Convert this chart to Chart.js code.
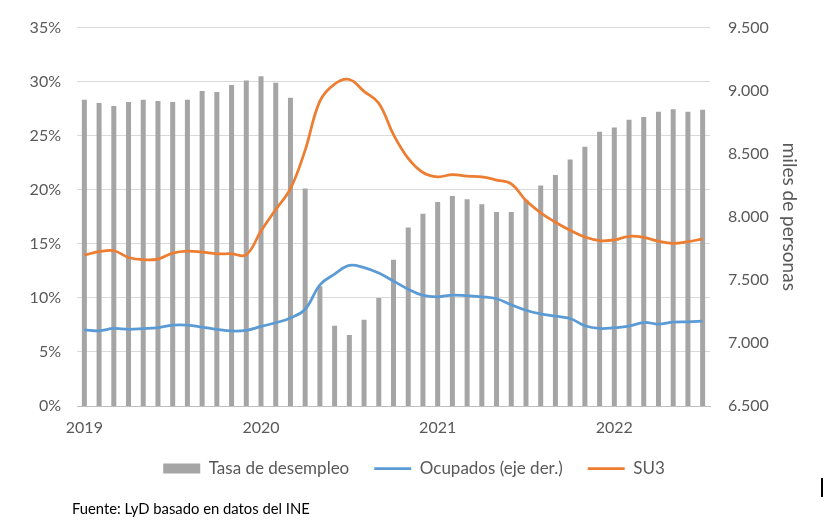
<!DOCTYPE html>
<html>
<head>
<meta charset="utf-8">
<script src="https://cdn.jsdelivr.net/npm/chart.js@4.4.1/dist/chart.umd.min.js"></script>
<style>
  html, body { margin: 0; padding: 0; background: #fff; }
  #wrap { position: relative; width: 828px; height: 531px; }
  #source {
    position: absolute; left: 72px; top: 499px;
    font-family: Lato, sans-serif; font-size: 14.8px; color: #000;
  }
  #mark { position: absolute; left: 821px; top: 478px; width: 2px; height: 19px; background: #000; }
</style>
</head>
<body>
<div id="wrap">
  <canvas id="chart" width="828" height="531"></canvas>
  <div id="source">Fuente: LyD basado en datos del INE</div>
  <div id="mark"></div>
</div>
<script>
(function () {
    'use strict';

    var MONTHS = [
        '2019-01', '2019-02', '2019-03', '2019-04', '2019-05', '2019-06',
        '2019-07', '2019-08', '2019-09', '2019-10', '2019-11', '2019-12',
        '2020-01', '2020-02', '2020-03', '2020-04', '2020-05', '2020-06',
        '2020-07', '2020-08', '2020-09', '2020-10', '2020-11', '2020-12',
        '2021-01', '2021-02', '2021-03', '2021-04', '2021-05', '2021-06',
        '2021-07', '2021-08', '2021-09', '2021-10', '2021-11', '2021-12',
        '2022-01', '2022-02', '2022-03', '2022-04', '2022-05', '2022-06',
        '2022-07'
    ];

    // Bars, read on the right axis (miles de personas).
    var BARS = [
        8927, 8903, 8879, 8911, 8927, 8919, 8911, 8927, 8997, 8990, 9045, 9081,
        9115, 9063, 8943, 8225, 7450, 7136, 7063, 7183, 7356, 7660, 7916, 8024,
        8118, 8165, 8139, 8100, 8039, 8039, 8135, 8249, 8332, 8455, 8555, 8675,
        8707, 8770, 8791, 8832, 8853, 8832, 8848
    ];

    // Blue line, left axis (%).
    var BLUE = [
        7.05, 6.96, 7.17, 7.09, 7.15, 7.24, 7.48, 7.48, 7.30, 7.09, 6.94, 7.00,
        7.36, 7.70, 8.15, 8.95, 11.2, 12.2, 13.0, 12.8, 12.3, 11.55, 10.8, 10.23,
        10.1, 10.26, 10.2, 10.1, 9.92, 9.37, 8.86, 8.52, 8.31, 8.09, 7.42, 7.17,
        7.24, 7.39, 7.72, 7.58, 7.76, 7.79, 7.85
    ];

    // Orange line (SU3), left axis (%).
    var SU3 = [
        13.96, 14.27, 14.36, 13.74, 13.53, 13.59, 14.14, 14.32, 14.23, 14.08, 14.08, 13.99,
        16.19, 18.17, 20.1, 23.67, 28.2, 29.78, 30.2, 29.1, 28.0, 25.1, 22.9, 21.6,
        21.2, 21.4, 21.26, 21.2, 20.9, 20.55, 19.0, 17.87, 17.0, 16.25, 15.63, 15.3,
        15.36, 15.7, 15.6, 15.24, 15.05, 15.2, 15.45
    ];

    var LEFT_TICKS = [0, 5, 10, 15, 20, 25, 30, 35];
    var RIGHT_TICKS = [6500, 7000, 7500, 8000, 8500, 9000, 9500];

    var COLORS = {
        bar: '#a5a5a5',
        blue: '#5b9bd5',
        orange: '#ed7d31',
        grid: '#d9d9d9',
        text: '#595959'
    };

    var FONT = 'Lato, sans-serif';

    function formatMiles(v) {
        return String(v).replace(/\B(?=(\d{3})+(?!\d))/g, '.');
    }

    var ctx = document.getElementById('chart').getContext('2d');

    new Chart(ctx, {
        type: 'bar',
        data: {
            labels: MONTHS,
            datasets: [{
                type: 'bar',
                label: 'Tasa de desempleo',
                data: BARS,
                yAxisID: 'yRight',
                backgroundColor: COLORS.bar,
                borderWidth: 0,
                barPercentage: 0.68,
                categoryPercentage: 0.5,
                pointStyle: 'rect',
                order: 3
            }, {
                type: 'line',
                label: 'Ocupados (eje der.)',
                data: BLUE,
                yAxisID: 'yLeft',
                borderColor: COLORS.blue,
                backgroundColor: COLORS.blue,
                borderWidth: 2.75,
                pointRadius: 0,
                tension: 0.4,
                pointStyle: 'line',
                order: 1
            }, {
                type: 'line',
                label: 'SU3',
                data: SU3,
                yAxisID: 'yLeft',
                borderColor: COLORS.orange,
                backgroundColor: COLORS.orange,
                borderWidth: 2.75,
                pointRadius: 0,
                tension: 0.4,
                pointStyle: 'line',
                order: 2
            }]
        },
        options: {
            responsive: false,
            animation: false,
            layout: { padding: { top: 19, left: 0, right: 0, bottom: 44 } },
            plugins: {
                tooltip: { enabled: false },
                legend: {
                    position: 'bottom',
                    labels: {
                        usePointStyle: true,
                        pointStyleWidth: 37,
                        boxHeight: 10,
                        padding: 25,
                        color: COLORS.text,
                        font: { family: FONT, size: 17 },
                        sort: function (a, b) { return a.datasetIndex - b.datasetIndex; }
                    }
                }
            },
            scales: {
                x: {
                    grid: { display: false, drawTicks: false },
                    border: { display: true, color: '#bfbfbf', width: 1 },
                    ticks: {
                        autoSkip: false,
                        maxRotation: 0,
                        padding: 12,
                        color: COLORS.text,
                        font: { family: FONT, size: 16 },
                        callback: function (value, index) {
                            return index % 12 === 0 ? MONTHS[index].slice(0, 4) : '';
                        }
                    },
                    afterFit: function (scale) { scale.height = 29; }
                },
                yLeft: {
                    position: 'left',
                    min: LEFT_TICKS[0],
                    max: LEFT_TICKS[LEFT_TICKS.length - 1],
                    afterBuildTicks: function (scale) {
                        scale.ticks = LEFT_TICKS.map(function (v) { return { value: v }; });
                    },
                    grid: { color: COLORS.grid, lineWidth: 1, drawTicks: false },
                    border: { display: false },
                    ticks: {
                        padding: 16,
                        color: COLORS.text,
                        font: { family: FONT, size: 16 },
                        callback: function (v) { return v + '%'; }
                    },
                    afterFit: function (scale) { scale.width = 77; }
                },
                yRight: {
                    position: 'right',
                    min: RIGHT_TICKS[0],
                    max: RIGHT_TICKS[RIGHT_TICKS.length - 1],
                    afterBuildTicks: function (scale) {
                        scale.ticks = RIGHT_TICKS.map(function (v) { return { value: v }; });
                    },
                    grid: { drawOnChartArea: false, drawTicks: false },
                    border: { display: false },
                    ticks: {
                        padding: 18,
                        color: COLORS.text,
                        font: { family: FONT, size: 16 },
                        callback: function (v) { return formatMiles(v); }
                    },
                    title: {
                        display: true,
                        text: 'miles de personas',
                        color: COLORS.text,
                        font: { family: FONT, size: 19 },
                        padding: { top: 27, bottom: 0 }
                    },
                    afterFit: function (scale) { scale.width = 118; }
                }
            }
        }
    });
})();
</script>
</body>
</html>
